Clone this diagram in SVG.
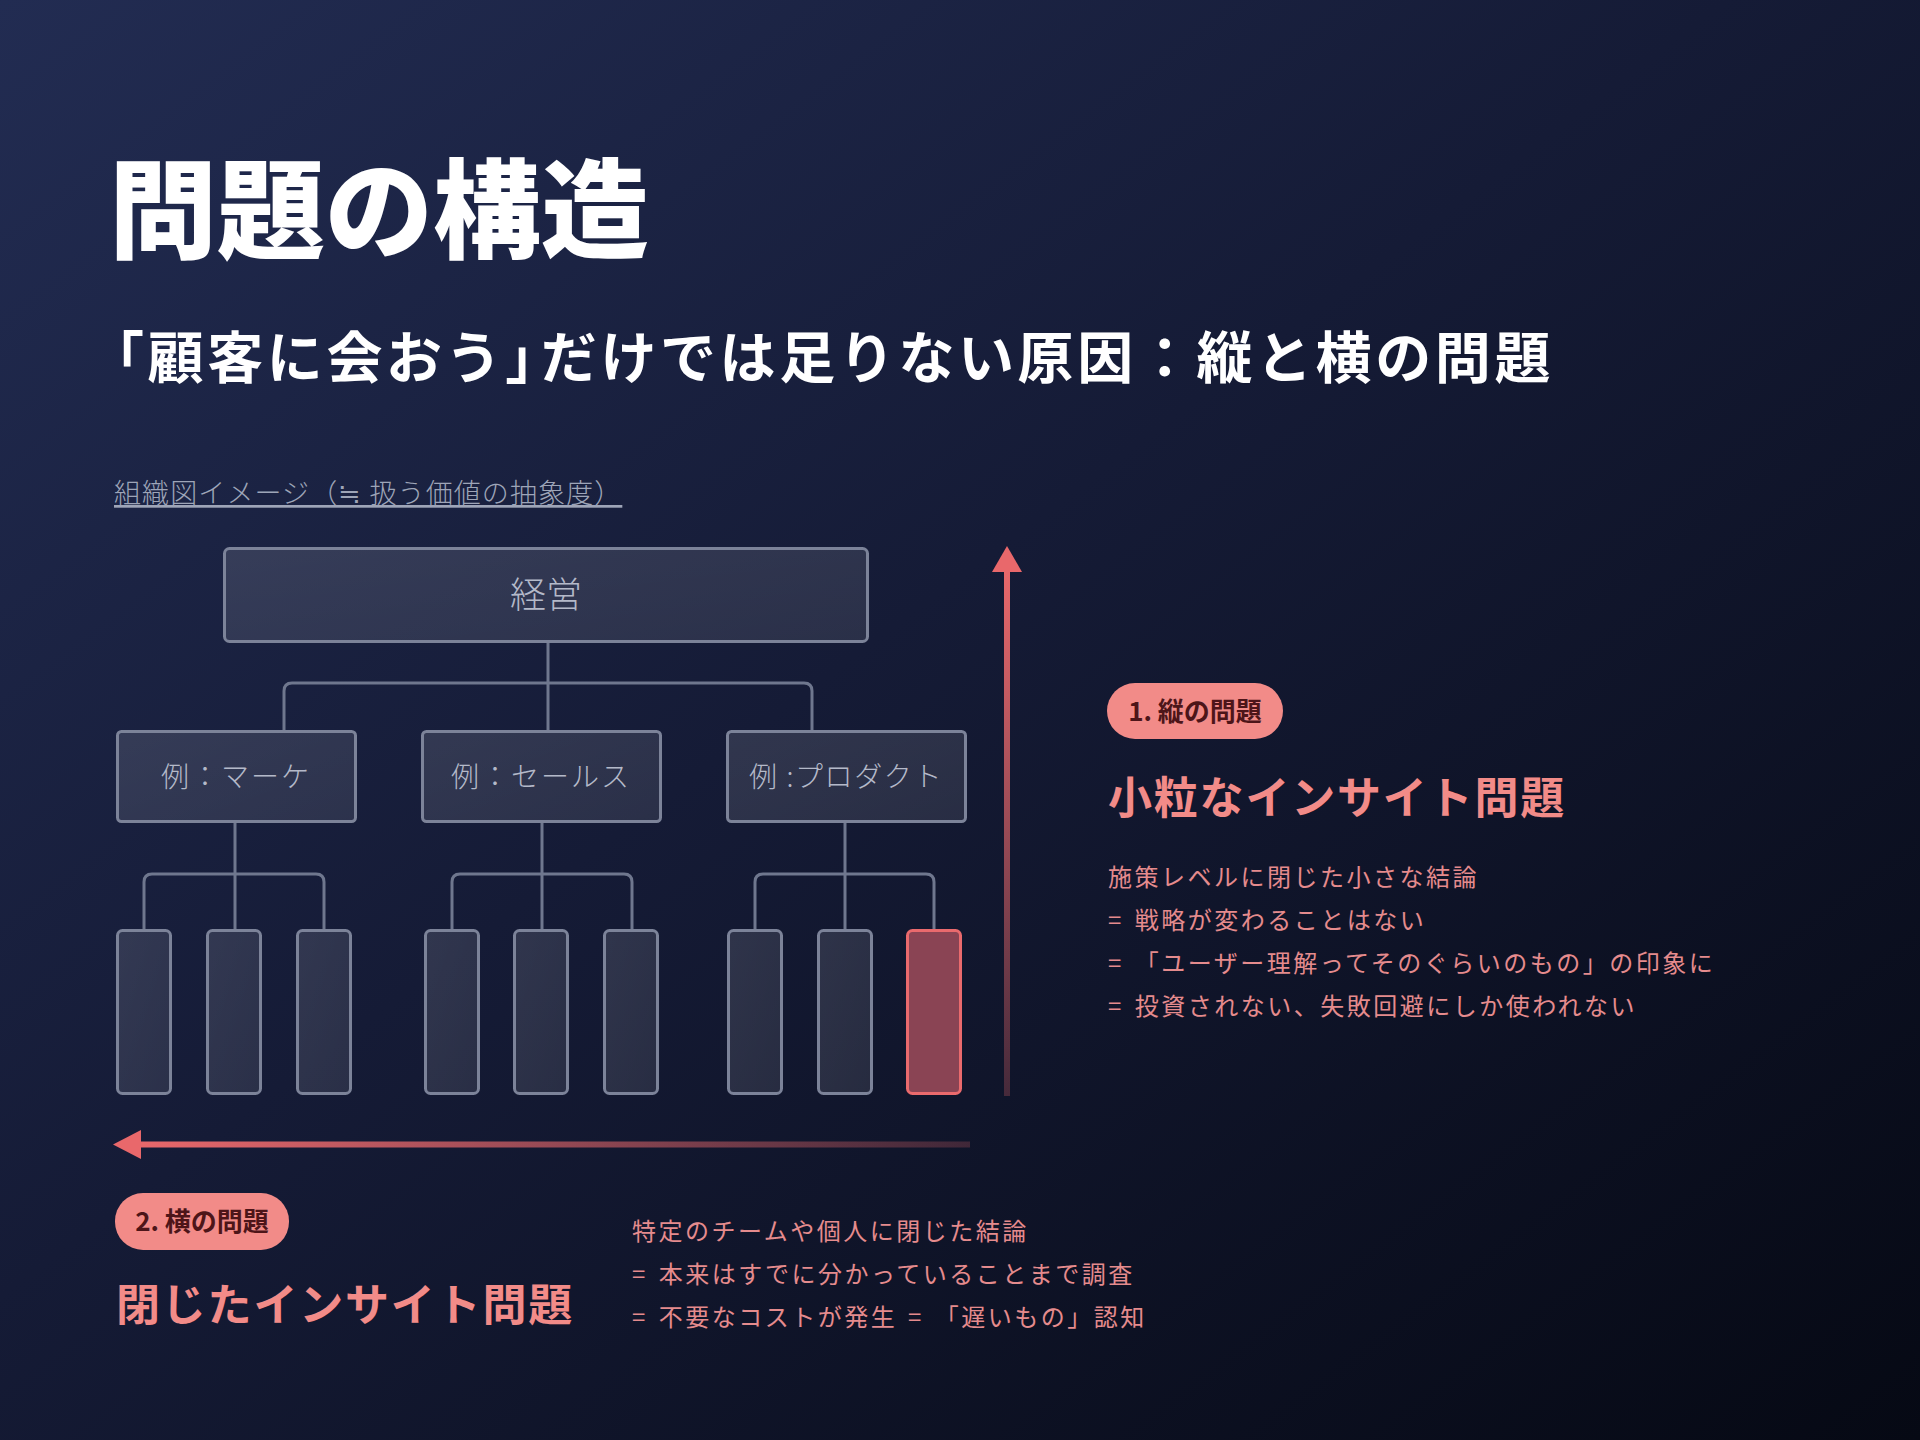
<svg xmlns="http://www.w3.org/2000/svg" width="1920" height="1440" viewBox="0 0 1920 1440">
  <defs>
    <linearGradient id="bg" x1="0" y1="0" x2="1" y2="1">
      <stop offset="0" stop-color="#222c52"/>
      <stop offset="0.45" stop-color="#151b36"/>
      <stop offset="1" stop-color="#060914"/>
    </linearGradient>
    <linearGradient id="boxfill" x1="0" y1="0" x2="1" y2="1">
      <stop offset="0" stop-color="#ffffff" stop-opacity="0.12"/>
      <stop offset="1" stop-color="#ffffff" stop-opacity="0.09"/>
    </linearGradient>
    <linearGradient id="vgrad" gradientUnits="userSpaceOnUse" x1="0" y1="570" x2="0" y2="1096">
      <stop offset="0" stop-color="#e9686b"/>
      <stop offset="1" stop-color="#e9686b" stop-opacity="0.25"/>
    </linearGradient>
    <linearGradient id="hgrad" gradientUnits="userSpaceOnUse" x1="140" y1="0" x2="970" y2="0">
      <stop offset="0" stop-color="#e9686b"/>
      <stop offset="1" stop-color="#e9686b" stop-opacity="0.22"/>
    </linearGradient>
    <style>
      text { font-family: "Noto Sans CJK JP", "Noto Sans", sans-serif; }
      .box { fill: url(#boxfill); stroke: #7c8399; stroke-width: 3; }
      .hot { fill: #8a4454; stroke: #ea6a6d; stroke-width: 3; }
      .conn { fill: none; stroke: #6f778e; stroke-width: 3; }
      .orgtxt { fill: #b4b9c9; font-weight: 300; text-anchor: middle; }
      .badge { fill: #f28b88; }
      .badgetxt { fill: #4d1519; font-size: 26px; font-weight: 700; text-anchor: middle; }
      .head { fill: #f28b88; font-size: 44px; font-weight: 700; letter-spacing: 1.8px; }
      .body { fill: #e58b8d; font-size: 24px; font-weight: 400; letter-spacing: 2.5px; word-spacing: 3px; }
    </style>
  </defs>

  <rect x="0" y="0" width="1920" height="1440" fill="url(#bg)"/>

  <text x="109" y="250" font-size="108" font-weight="900" fill="#ffffff">問題の構造</text>
  <text x="88" y="378" font-size="56" font-weight="700" fill="#ffffff" letter-spacing="3.6">「顧客に会おう」<tspan dx="-24">だけでは足りない原因：縦と横の問題</tspan></text>

  <text x="114" y="503" font-size="27" font-weight="300" fill="#9ea5b8" letter-spacing="1.1" text-decoration="underline">組織図イメージ（≒ 扱う価値の抽象度）</text>

  <g id="connectors">
    <path class="conn" d="M548 643 V730"/>
    <path class="conn" d="M284 730 V691 Q284 683 292 683 H804 Q812 683 812 691 V730"/>
    <path class="conn" d="M235 823 V929"/>
    <path class="conn" d="M144 929 V882 Q144 874 152 874 H316 Q324 874 324 882 V929"/>
    <path class="conn" d="M542 823 V929"/>
    <path class="conn" d="M452 929 V882 Q452 874 460 874 H624 Q632 874 632 882 V929"/>
    <path class="conn" d="M845 823 V929"/>
    <path class="conn" d="M755 929 V882 Q755 874 763 874 H926 Q934 874 934 882 V929"/>
  </g>

  <g id="node-keiei">
    <rect class="box" x="224.5" y="548.5" width="643" height="93" rx="5"/>
    <text class="orgtxt" x="546" y="608" font-size="36">経営</text>
  </g>
  <g id="node-marke">
    <rect class="box" x="117.5" y="731.5" width="238" height="90" rx="4"/>
    <text class="orgtxt" x="236" y="787" font-size="28" letter-spacing="2">例：マーケ</text>
  </g>
  <g id="node-sales">
    <rect class="box" x="422.5" y="731.5" width="238" height="90" rx="4"/>
    <text class="orgtxt" x="541" y="787" font-size="28" letter-spacing="2">例：セールス</text>
  </g>
  <g id="node-product">
    <rect class="box" x="727.5" y="731.5" width="238" height="90" rx="4"/>
    <text class="orgtxt" x="846" y="787" font-size="28" letter-spacing="1.6">例 :プロダクト</text>
  </g>

  <g id="leaf-1"><rect class="box" x="117.5" y="930.5" width="53" height="163" rx="5"/></g>
  <g id="leaf-2"><rect class="box" x="207.5" y="930.5" width="53" height="163" rx="5"/></g>
  <g id="leaf-3"><rect class="box" x="297.5" y="930.5" width="53" height="163" rx="5"/></g>
  <g id="leaf-4"><rect class="box" x="425.5" y="930.5" width="53" height="163" rx="5"/></g>
  <g id="leaf-5"><rect class="box" x="514.5" y="930.5" width="53" height="163" rx="5"/></g>
  <g id="leaf-6"><rect class="box" x="604.5" y="930.5" width="53" height="163" rx="5"/></g>
  <g id="leaf-7"><rect class="box" x="728.5" y="930.5" width="53" height="163" rx="5"/></g>
  <g id="leaf-8"><rect class="box" x="818.5" y="930.5" width="53" height="163" rx="5"/></g>
  <g id="leaf-9"><rect class="hot" x="907.5" y="930.5" width="53" height="163" rx="5"/></g>

  <g id="arrow-vertical">
    <rect x="1004" y="570" width="6" height="526" fill="url(#vgrad)"/>
    <polygon points="1007,546 1022,572 992,572" fill="#e9686b"/>
  </g>
  <g id="arrow-horizontal">
    <rect x="139" y="1141.5" width="831" height="6" fill="url(#hgrad)"/>
    <polygon points="113,1144.5 141,1130 141,1159" fill="#e9686b"/>
  </g>

  <g id="vertical-problem">
    <rect class="badge" x="1107" y="683" width="176" height="56" rx="28"/>
    <text class="badgetxt" x="1195" y="721">1. 縦の問題</text>
    <text class="head" x="1108" y="814">小粒なインサイト問題</text>
    <text class="body" x="1108" y="886">施策レベルに閉じた小さな結論</text>
    <text class="body" x="1108" y="929">= 戦略が変わることはない</text>
    <text class="body" x="1108" y="972">= 「ユーザー理解ってそのぐらいのもの」の印象に</text>
    <text class="body" x="1108" y="1015">= 投資されない、失敗回避にしか使われない</text>
  </g>

  <g id="horizontal-problem">
    <rect class="badge" x="115" y="1193" width="174" height="57" rx="28"/>
    <text class="badgetxt" x="202" y="1231">2. 横の問題</text>
    <text class="head" x="116" y="1321">閉じたインサイト問題</text>
    <text class="body" x="632" y="1240">特定のチームや個人に閉じた結論</text>
    <text class="body" x="632" y="1283">= 本来はすでに分かっていることまで調査</text>
    <text class="body" x="632" y="1326">= 不要なコストが発生 = 「遅いもの」認知</text>
  </g>
</svg>
